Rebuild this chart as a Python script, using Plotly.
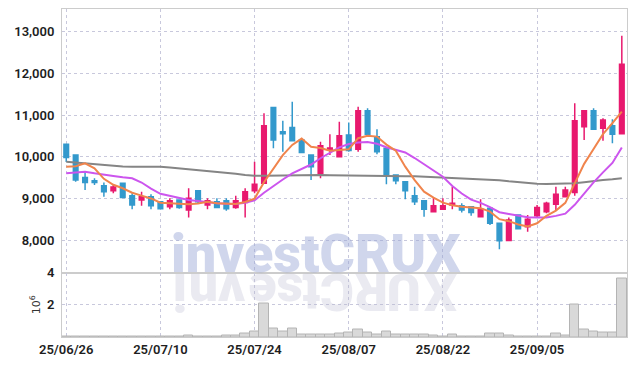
import plotly.graph_objects as go

dates = ["25/06/26","25/06/27","25/06/30","25/07/01","25/07/02","25/07/03","25/07/04","25/07/07","25/07/08","25/07/09",
         "25/07/10","25/07/11","25/07/14","25/07/15","25/07/16","25/07/17","25/07/18","25/07/21","25/07/22","25/07/23",
         "25/07/24","25/07/25","25/07/28","25/07/29","25/07/30","25/07/31","25/08/01","25/08/04","25/08/05","25/08/06",
         "25/08/07","25/08/08","25/08/11","25/08/12","25/08/13","25/08/14","25/08/18","25/08/19","25/08/20","25/08/21",
         "25/08/22","25/08/25","25/08/26","25/08/27","25/08/28","25/08/29","25/09/01","25/09/02","25/09/03","25/09/04",
         "25/09/05","25/09/08","25/09/09","25/09/10","25/09/11","25/09/12","25/09/15","25/09/16","25/09/17","25/09/18"]

opens = [10300,10040,9500,9420,9300,9180,9360,9060,8960,9040,
         8920,8800,8960,8720,9180,8840,8920,8940,8780,8900,
         9180,9360,11180,10600,10700,10400,10040,9600,10160,10000,
         10520,10180,11100,10480,10200,9560,9400,9060,8940,8680,
         8740,8840,8820,8800,8560,8760,8400,7990,8600,8320,
         8580,8680,8860,9040,9140,10720,11100,10680,10740,10550]
highs = [10310,10050,9640,9480,9380,9320,9370,9120,9160,9100,
         8930,9000,8970,9240,9180,9000,9000,9000,9060,9240,
         9880,11040,11180,10860,11320,10410,10050,10360,10540,10840,
         10820,11200,11160,10660,10210,9570,9410,9280,8950,9020,
         9000,9280,8880,8810,8980,8770,8410,8540,8610,8600,
         8840,8920,9280,9280,11280,11110,11160,10920,10900,12900]
lows = [9870,9400,9200,9320,9040,9120,9010,8740,8820,8740,
        8740,8740,8750,8540,8880,8740,8770,8700,8750,8540,
        9120,9350,10200,10120,10370,10080,9440,9480,10040,9990,
        10120,10120,10530,10060,9340,9340,8980,8840,8560,8670,
        8730,8740,8660,8580,8550,8360,7780,7980,8260,8200,
        8540,8640,8720,9030,9060,10400,10650,10380,10320,10540]
closes = [9980,9440,9380,9380,9160,9270,9020,8840,9040,8820,
          8750,8940,8780,9000,8920,8940,8780,8750,8940,9160,
          9340,10740,10400,10550,10380,10100,9760,10260,10210,10500,
          10150,11100,10540,10120,9540,9420,9180,8920,8740,8820,
          8820,8880,8720,8660,8740,8400,7980,8480,8270,8500,
          8780,8880,9100,9200,10860,11100,10660,10880,10540,12220]

ma5 = [9760,9770,9840,9720,9468,9326,9242,9134,9066,8998,
       8894,8878,8866,8858,8878,8916,8884,8878,8866,8914,
       8994,9386,9716,10038,10282,10434,10238,10210,10142,10166,
       10176,10444,10500,10482,10290,10144,9760,9436,9160,9016,
       8896,8836,8796,8780,8764,8680,8500,8452,8374,8326,
       8402,8582,8706,8892,9364,9828,10184,10540,10808,11080]
ma10 = [9600,9616,9640,9600,9560,9536,9504,9480,9380,9233,
        9110,9060,9000,8962,8938,8905,8881,8872,8862,8896,
        8955,9135,9297,9452,9598,9714,9812,9963,10090,10224,
        10305,10341,10355,10312,10228,10160,10102,9968,9821,9653,
        9520,9298,9116,8970,8890,8788,8668,8624,8577,8545,
        8541,8541,8579,8633,8845,9115,9383,9623,9850,10222]
ma60 = [9880,9860,9830,9810,9790,9775,9765,9760,9760,9760,
        9760,9740,9720,9700,9680,9650,9630,9610,9590,9560,
        9540,9540,9545,9550,9555,9560,9560,9560,9555,9550,
        9545,9540,9540,9540,9540,9535,9530,9530,9520,9510,
        9500,9490,9480,9470,9460,9456,9432,9408,9384,9368,
        9352,9344,9344,9344,9360,9384,9416,9440,9456,9480]

volumes = [30000,40000,30000,20000,30000,30000,20000,30000,20000,20000,
           30000,20000,30000,100000,50000,20000,20000,70000,100000,200000,
           350000,2100000,520000,360000,520000,150000,180000,180000,150000,200000,
           270000,460000,250000,150000,360000,150000,150000,150000,130000,100000,
           50000,130000,60000,60000,20000,200000,200000,120000,60000,60000,
           60000,60000,200000,80000,2000000,460000,330000,270000,270000,3650000]

price_ticks = [8000, 9000, 10000, 11000, 12000, 13000]
vol_ticks = [2000000, 4000000]
vol_tick_text = ["2", "4"]
date_ticks = dates[::10]

watermark = "investCRUX"
wm_letter_px = [180, 204, 232, 263, 290, 311, 337, 371, 404, 440]

RED = "#e8196e"
BLUE = "#3399cc"
GRID = "#c8c8dc"
LINE = "#cccccc"
FONT = "Roboto, 'Open Sans', sans-serif"
TICKFONT = dict(family=FONT, size=13, color="#1e1e1e", weight=600)

fig = go.Figure()
fig.add_trace(go.Candlestick(
    x=dates, open=opens, high=highs, low=lows, close=closes,
    increasing=dict(line=dict(color=RED, width=1.5), fillcolor=RED),
    decreasing=dict(line=dict(color=BLUE, width=1.5), fillcolor=BLUE),
    whiskerwidth=0, xaxis="x", yaxis="y", hoverinfo="skip"))
fig.add_trace(go.Scatter(x=dates, y=ma60, mode="lines", line=dict(color="#858585", width=2), xaxis="x", yaxis="y"))
fig.add_trace(go.Scatter(x=dates, y=ma10, mode="lines", line=dict(color="#cc55ee", width=2), xaxis="x", yaxis="y"))
fig.add_trace(go.Scatter(x=dates, y=ma5, mode="lines", line=dict(color="#f0844c", width=2), xaxis="x", yaxis="y"))
fig.add_trace(go.Bar(x=dates, y=volumes, marker=dict(color="#d9d9d9", line=dict(color="#b4b4b4", width=1)),
                     xaxis="x2", yaxis="y2"))

L, R, T, B = 62, 8, 9, 29
W, H = 635, 366
ph = H - T - B
split = (337 - 272.5) / ph

axis_common = dict(type="category", range=[-0.45, 59.55], tickvals=date_ticks,
                   showgrid=True, gridcolor=GRID, griddash="dot", gridwidth=1,
                   showline=True, mirror=True, linecolor=LINE, linewidth=1,
                   ticks="", zeroline=False, fixedrange=True)

fig.update_layout(
    width=W, height=H, margin=dict(l=L, r=R, t=T, b=B, autoexpand=False),
    paper_bgcolor="white", plot_bgcolor="white", showlegend=False,
    bargap=0,
    font=dict(family=FONT, size=13, color="#222222"),
    xaxis=dict(axis_common, domain=[0, 1], anchor="y", showticklabels=False, automargin=False,
               rangeslider=dict(visible=False)),
    xaxis2=dict(axis_common, domain=[0, 1], anchor="y2", matches="x", showticklabels=True, automargin=False,
                ticktext=date_ticks, tickfont=TICKFONT),
    yaxis=dict(domain=[split, 1], range=[7220, 13545], tickvals=price_ticks, tickformat=",d",
               showgrid=True, gridcolor=GRID, griddash="dot", showline=True, mirror=True,
               linecolor=LINE, ticks="", zeroline=False, ticklabelstandoff=4, automargin=False,
               tickfont=TICKFONT),
    yaxis2=dict(domain=[0, split], range=[0, 4000000], tickvals=vol_ticks, ticktext=vol_tick_text,
                showgrid=True, gridcolor=GRID, griddash="dot", showline=True, mirror=True,
                linecolor=LINE, ticks="", zeroline=False, ticklabelstandoff=4, automargin=False,
                tickfont=TICKFONT,
                title=dict(text="10<sup>6</sup>", font=dict(family="DejaVu Sans", size=11, color="#333333"),
                           standoff=4)),
)

def px_to_paper_x(px):
    return (px - L) / (W - L - R)

def px_to_paper_y(py):
    return (H - B - py) / ph

# main word: box clipped just below the baseline (no descenders in the word)
annotations = [dict(text=watermark, xref="paper", yref="paper",
                    x=px_to_paper_x(316), y=px_to_paper_y(247), xanchor="center", yanchor="middle",
                    showarrow=False, borderpad=0, height=51, valign="top",
                    font=dict(family="Roboto", size=54, color="rgba(150,165,212,0.45)", weight=900))]
# mirrored reflection, one letter at a time
for ch, cx in zip(watermark, wm_letter_px):
    annotations.append(dict(text=ch, xref="paper", yref="paper",
                            x=px_to_paper_x(cx), y=px_to_paper_y(297.5), xanchor="center", yanchor="middle",
                            showarrow=False, textangle=180, borderpad=0, height=49, valign="top",
                            font=dict(family="Roboto", size=52, color="rgba(185,185,210,0.30)", weight=900)))
fig.update_layout(annotations=annotations)

fig.write_html("out.html", config={"displayModeBar": False},
               post_script="document.body.style.margin='0';document.body.style.padding='0';")
